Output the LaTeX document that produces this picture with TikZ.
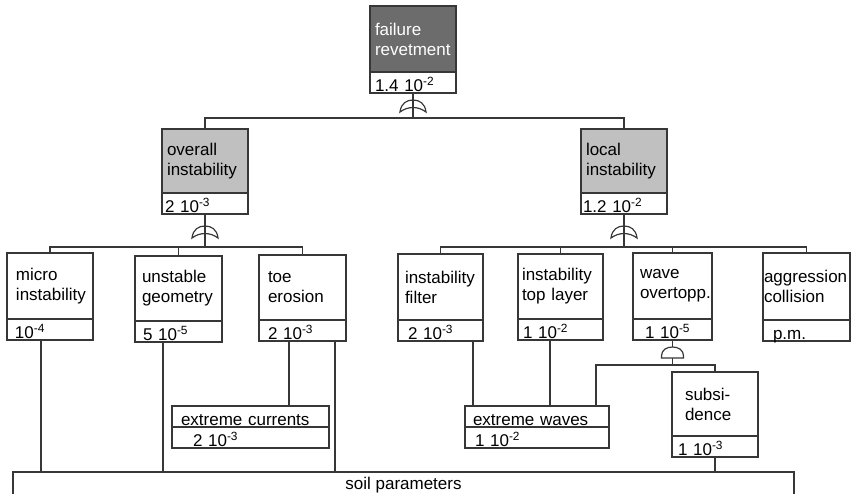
\documentclass[tikz,border=0pt]{standalone}
\usepackage{fontspec}
\setmainfont{Liberation Sans}
\usetikzlibrary{positioning,calc}
\hyphenpenalty=10000
\definecolor{linegray}{RGB}{55,55,55}
\definecolor{topgray}{RGB}{108,108,108}
\definecolor{midgray}{RGB}{192,192,192}
\tikzset{
  base/.style={rectangle, draw=linegray, line width=1.2pt, outer sep=0pt,
               align=left, font=\fontsize{17}{20}\selectfont},
  event/.style={base, anchor=north west, inner ysep=0pt},
  eventtop/.style={event, fill=topgray, text=white},
  eventmid/.style={event, fill=midgray},
  prob/.style={base, minimum height=21pt, text height=18pt, text depth=0pt, inner ysep=1.5pt},
  wire/.style={draw=linegray, line width=1.2pt},
  orgate/.pic={\draw[wire] (-13,6) .. controls (-12,-3) and (-6,-6) .. (0,-6)
                 .. controls (6,-6) and (12,-3) .. (13,6)
                 .. controls (5,0) and (-5,0) .. (-13,6) -- cycle;},
  andgate/.pic={\draw[wire, fill=white] (-11,5) -- (-11,3) .. controls (-11,-3) and (-6,-6) .. (0,-6)
                 .. controls (6,-6) and (11,-3) .. (11,3) -- (11,5) -- cycle;},
}
\begin{document}
\begin{tikzpicture}[x=1pt, y=-1pt]
\useasboundingbox (0,0) rectangle (852,493);
% top event
\node[eventtop, minimum height=66pt, inner xsep=5pt, text width=76pt] (failure) at (370,6) {failure\\revetment};
\node[prob, below=0pt of failure, inner xsep=5pt, text width=76pt] (failurev) {1.4 10\textsuperscript{-2}};
% first level
\node[eventmid, minimum height=64pt, inner xsep=5pt, text width=76pt] (overall) at (162,129) {overall\\instability};
\node[prob, below=0pt of overall, inner xsep=3pt, text width=80pt] (overallv) {2 10\textsuperscript{-3}};
\node[eventmid, minimum height=64pt, inner xsep=5pt, text width=76pt] (local) at (581,129) {local\\instability};
\node[prob, below=0pt of local, inner xsep=2pt, text width=82pt] (localv) {1.2 10\textsuperscript{-2}};
% second level
\node[event, minimum height=66pt, inner xsep=9pt, text width=68pt] (micro) at (7,253) {micro\\instability};
\node[prob, below=0pt of micro, inner xsep=8pt, text width=70pt] (microv) {10\textsuperscript{-4}};
\node[event, minimum height=65pt, inner xsep=7pt, text width=73pt] (unstable) at (135,256) {unstable\\geometry};
\node[prob, below=0pt of unstable, inner xsep=8pt, text width=71pt] (unstablev) {5 10\textsuperscript{-5}};
\node[event, minimum height=65pt, inner xsep=9pt, text width=69pt] (toe) at (259,255) {toe\\erosion};
\node[prob, below=0pt of toe, inner xsep=9pt, text width=69pt] (toev) {2 10\textsuperscript{-3}};
\node[event, minimum height=66pt, inner xsep=7pt, text width=71pt] (filter) at (398,254) {instability\\filter};
\node[prob, below=0pt of filter, inner xsep=10pt, text width=65pt] (filterv) {2 10\textsuperscript{-3}};
\node[event, minimum height=65pt, inner xsep=4pt, text width=77pt] (toplayer) at (518,254) {instability\\top layer};
\node[prob, below=0pt of toplayer, inner xsep=5pt, text width=75pt] (toplayerv) {1 10\textsuperscript{-2}};
\node[event, minimum height=66pt, inner xsep=7pt, text width=65pt] (wave) at (633,253) {wave\\overtopp.};
\node[prob, below=0pt of wave, inner xsep=12pt, text width=55pt] (wavev) {1 10\textsuperscript{-5}};
\node[event, minimum height=67pt, inner xsep=1pt, text width=85pt] (aggression) at (763,253) {aggression\\collision};
\node[prob, below=0pt of aggression, inner xsep=10pt, text width=67pt] (aggressionv) {p.m.};
% basic events
\node[event, minimum height=64pt, inner xsep=13pt, text width=60pt] (subsidence) at (672,372) {subsi-\\dence};
\node[prob, below=0pt of subsidence, inner xsep=6pt, text width=74pt] (subsidencev) {1 10\textsuperscript{-3}};
\node[prob, anchor=north west, inner xsep=9pt, text width=139pt] (currents) at (172,406) {extreme currents};
\node[prob, below=0pt of currents, inner xsep=21pt, text width=115pt] (currentsv) {2 10\textsuperscript{-3}};
\node[prob, anchor=north west, inner xsep=8pt, text width=128pt] (waves) at (465,406) {extreme waves};
\node[prob, below=0pt of waves, inner xsep=10pt, text width=124pt] (wavesv) {1 10\textsuperscript{-2}};
\node[base, anchor=north west, minimum width=781pt, text height=16pt, text depth=12pt, inner ysep=1.5pt] (soil) at (13,472) {soil parameters};
% gates and buses
\coordinate (topbus) at ($(failurev.south)+(0,25)$);
\draw[wire] (failurev.south) -- (topbus);
\draw[wire] (overall.north) |- (topbus) -| (local.north);
\pic at ($(failurev.south)+(0,13)$) {orgate};
\coordinate (overallbus) at ($(overallv.south)+(0,33)$);
\draw[wire] (overallv.south) -- (overallbus);
\draw[wire] (micro.north) |- (overallbus) -| (toe.north);
\draw[wire] (unstable.north) -- (unstable.north |- overallbus);
\pic at ($(overallv.south)+(0,18)$) {orgate};
\coordinate (localbus) at ($(localv.south)+(0,33)$);
\draw[wire] (localv.south) -- (localbus);
\draw[wire] (filter.north) |- (localbus) -| (aggression.north);
\foreach \n in {toplayer, wave}
  \draw[wire] (\n.north) -- (\n.north |- localbus);
\pic at ($(localv.south)+(0,18)$) {orgate};
\coordinate (wavebus) at ($(wavev.south)+(0,25)$);
\draw[wire] (wavev.south) -- (wavebus);
\draw[wire] ([xshift=-13pt]waves.north east) |- (wavebus) -| (subsidence.north);
\pic at ($(wavev.south)+(0,13)$) {andgate};
% links down to the basic events
\foreach \src/\dx/\dst in {microv/-9/soil, unstablev/-15.5/soil, toev/-13.5/currents, toev/32.5/soil,
                           filterv/32.5/waves, toplayerv/-10.5/waves, subsidencev/0/soil}
  \draw[wire] ([xshift=\dx pt]\src.south) coordinate (tmp) -- (tmp |- \dst.north);
\end{tikzpicture}
\end{document}
